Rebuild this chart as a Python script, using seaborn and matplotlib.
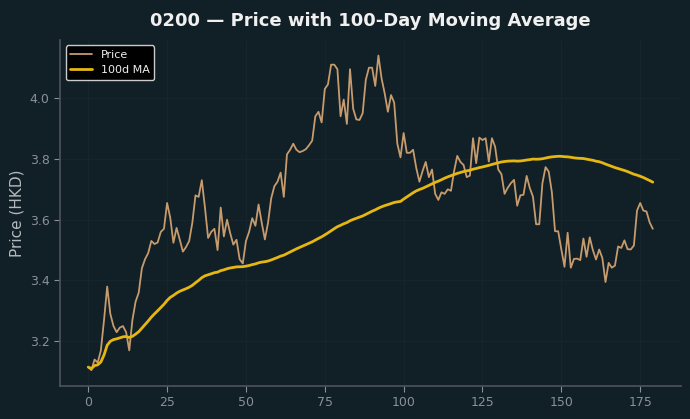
import numpy as np
import pandas as pd
import seaborn as sns
import matplotlib
matplotlib.use("Agg")
import matplotlib.pyplot as plt

# -------------- DONNEES -------------------#

ticker = "0200"
ma_window = 100

price = [
    3.115, 3.105, 3.14, 3.13, 3.17, 3.27, 3.38, 3.29, 3.25, 3.23,
    3.245, 3.25, 3.23, 3.17, 3.27, 3.33, 3.36, 3.44, 3.47, 3.49,
    3.53, 3.52, 3.525, 3.56, 3.57, 3.655, 3.606, 3.524, 3.573, 3.535,
    3.495, 3.51, 3.53, 3.59, 3.68, 3.675, 3.73, 3.64, 3.54, 3.56,
    3.57, 3.50, 3.64, 3.545, 3.60, 3.556, 3.518, 3.534, 3.47, 3.456,
    3.53, 3.56, 3.605, 3.58, 3.65, 3.59, 3.535, 3.59, 3.67, 3.71,
    3.725, 3.755, 3.675, 3.815, 3.83, 3.85, 3.83, 3.822, 3.826, 3.832,
    3.845, 3.86, 3.94, 3.955, 3.92, 4.03, 4.045, 4.11, 4.11, 4.095,
    3.94, 3.995, 3.915, 4.095, 3.965, 3.93, 3.928, 3.95, 4.06, 4.10,
    4.10, 4.04, 4.14, 4.065, 4.015, 3.955, 4.01, 3.985, 3.85, 3.805,
    3.885, 3.82, 3.82, 3.83, 3.77, 3.725, 3.76, 3.79, 3.74, 3.765,
    3.685, 3.665, 3.69, 3.685, 3.70, 3.695, 3.76, 3.81, 3.79, 3.78,
    3.74, 3.745, 3.868, 3.786, 3.87, 3.862, 3.868, 3.791, 3.868, 3.84,
    3.765, 3.75, 3.685, 3.705, 3.72, 3.731, 3.646, 3.68, 3.682, 3.744,
    3.704, 3.676, 3.585, 3.585, 3.72, 3.773, 3.758, 3.69, 3.562, 3.562,
    3.502, 3.445, 3.557, 3.442, 3.471, 3.472, 3.467, 3.538, 3.478, 3.542,
    3.50, 3.469, 3.502, 3.474, 3.395, 3.458, 3.442, 3.449, 3.512, 3.507,
    3.532, 3.503, 3.502, 3.515, 3.63, 3.655, 3.63, 3.627, 3.591, 3.570,
]

df = pd.DataFrame({"jour": np.arange(len(price)), "Price": price})
df["MA"] = df["Price"].rolling(ma_window, min_periods=1).mean()

# -------------- STYLE -------------------#

bg = "#111f26"
sns.set_theme(style="dark", rc={
    "figure.facecolor": bg,
    "axes.facecolor": bg,
    "axes.edgecolor": "#4b5257",
    "grid.color": "#18272f",
    "xtick.color": "#8a9096",
    "ytick.color": "#8a9096",
    "text.color": "#eeeeee",
    "axes.labelcolor": "#b4b9bd",
})
plt.rcParams["font.family"] = ["DejaVu Sans"]

# -------------- GRAPHIQUE -------------------#

fig, ax = plt.subplots(figsize=(6.9, 4.19), dpi=100)
fig.subplots_adjust(left=0.087, right=0.987, top=0.905, bottom=0.079)

sns.lineplot(data=df, x="jour", y="Price", ax=ax, color="#c69b6d",
             linewidth=1.3, label="Price")
sns.lineplot(data=df, x="jour", y="MA", ax=ax, color="#e6b712",
             linewidth=2.0, label=f"{ma_window}d MA")

ax.grid(True, linewidth=0.6)
ax.tick_params(axis="both", which="both", length=4, width=0.8,
               bottom=True, left=True, labelsize=9, colors="#8a9096")
ax.set_xlabel("")
ax.set_ylabel("Price (HKD)", fontsize=11)
ax.set_title(f"{ticker} — Price with 100-Day Moving Average",
             fontsize=13, fontweight="bold", color="#f0f0f0", pad=10)
sns.despine(ax=ax)
for s in ["left", "bottom"]:
    ax.spines[s].set_color("#4b5257")

leg = ax.legend(loc="upper left", fontsize=8, facecolor="#000000",
                edgecolor="#cccccc", framealpha=1.0)
for t in leg.get_texts():
    t.set_color("#eeeeee")

plt.savefig("out.png", dpi=100, facecolor=bg)
plt.close()
